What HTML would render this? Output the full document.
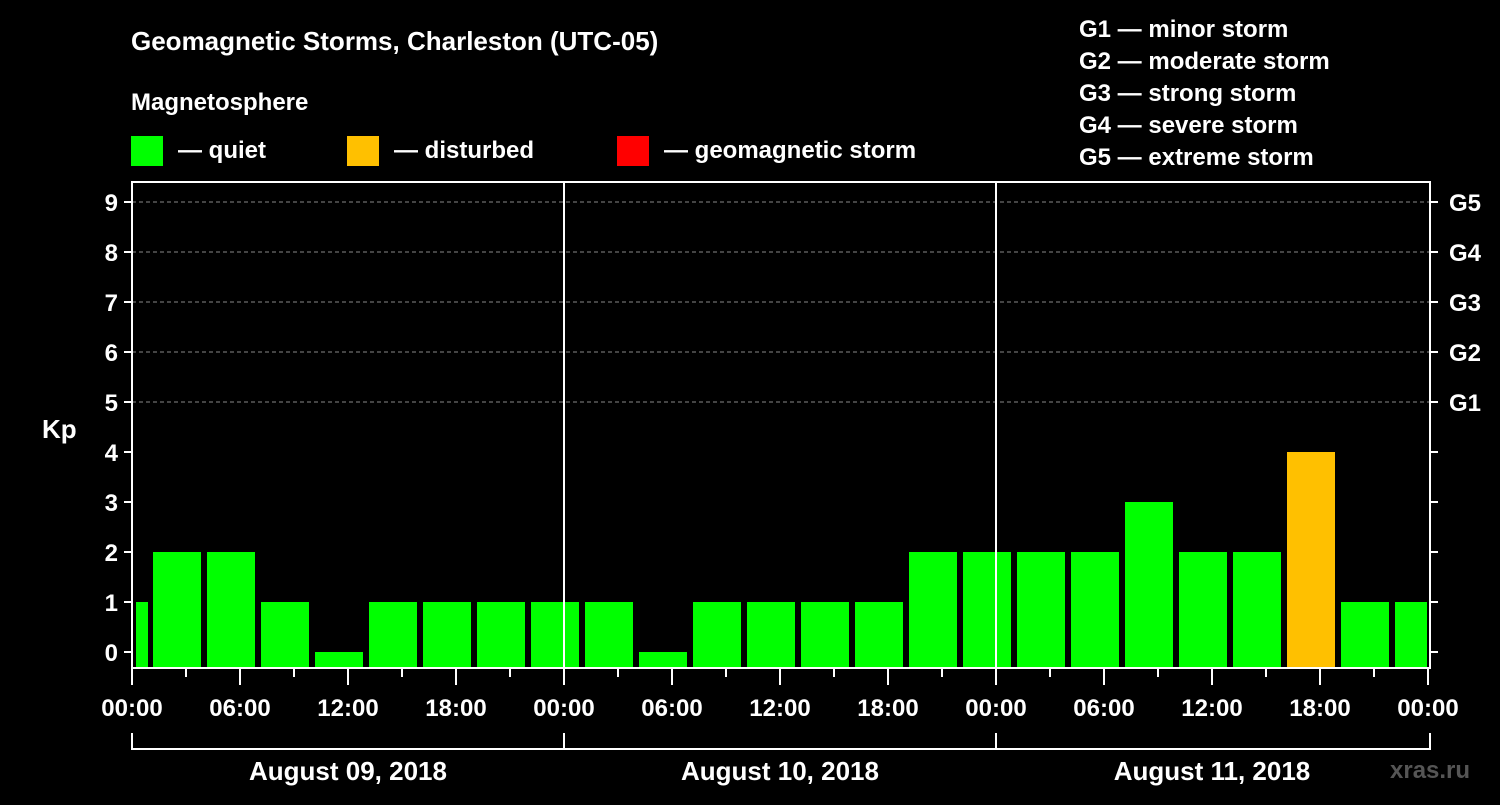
<!DOCTYPE html>
<html><head><meta charset="utf-8"><style>
body{margin:0;background:#000;width:1500px;height:800px;overflow:hidden}
svg text{font-family:"Liberation Sans",sans-serif;font-weight:bold;fill:#fff}
</style></head><body>
<svg id="c" width="1500" height="800">
<text x="131" y="50" font-size="26">Geomagnetic Storms, Charleston (UTC-05)</text>
<text x="131" y="110" font-size="24">Magnetosphere</text>
<rect x="131" y="136" width="32" height="30" fill="#00ff00"/>
<text x="178" y="158" font-size="24">— quiet</text>
<rect x="347" y="136" width="32" height="30" fill="#ffc000"/>
<text x="394" y="158" font-size="24">— disturbed</text>
<rect x="617" y="136" width="32" height="30" fill="#ff0000"/>
<text x="664" y="158" font-size="24">— geomagnetic storm</text>
<g font-size="24">
<text x="1079" y="37">G1 — minor storm</text>
<text x="1079" y="69">G2 — moderate storm</text>
<text x="1079" y="101">G3 — strong storm</text>
<text x="1079" y="133">G4 — severe storm</text>
<text x="1079" y="165">G5 — extreme storm</text>
</g>
<text x="42" y="438" font-size="26">Kp</text>
<text x="1390" y="778" font-size="24" fill="#555" style="fill:#555">xras.ru</text>
<g id="g"></g>
</svg>
<script>
const values=[1,2,2,1,0,1,1,1,1,1,0,1,1,1,1,2,2,2,2,3,2,2,4,1,1];
const yTicks=[0,1,2,3,4,5,6,7,8,9];
const gLabels=["G1","G2","G3","G4","G5"];
const hourLabels=["00:00","06:00","12:00","18:00"];
const dayLabels=["August 09, 2018","August 10, 2018","August 11, 2018"];
const X0=132,X1=1430,HPX=18,Y0=652,UPY=50,BOT=668,TOP=182;
const x=h=>X0+h*HPX, y=v=>Y0-v*UPY;
const g=document.getElementById('g');
const NS="http://www.w3.org/2000/svg";
function mk(t,a){const e=document.createElementNS(NS,t);for(const k in a)e.setAttribute(k,a[k]);g.appendChild(e);return e;}
// grid
for(let v=5;v<=9;v++){const l=mk('line',{x1:X0,x2:X1,y1:y(v),y2:y(v),stroke:'#888','stroke-dasharray':'4,3','stroke-width':1});

}
// bars
values.forEach((v,i)=>{const s=Math.max(0,-2+3*i),e=Math.min(72,1+3*i);
const r=mk('rect',{x:x(s)+(i==0?4:3),y:y(v),width:(x(e)-x(s))-(i==0?6:6)+(i==values.length-1?2:0),height:BOT-y(v),fill:v>=5?'#ff0000':v>=4?'#ffc000':'#00ff00'});

});
// frame
const fr=mk('path',{d:`M${X0} ${TOP}H${X1}V${BOT}H${X0}Z M${x(24)} ${TOP}V${BOT} M${x(48)} ${TOP}V${BOT}`,stroke:'#fff','stroke-width':2,fill:'none'});


yTicks.forEach(v=>{mk('line',{x1:X0-8,x2:X0,y1:y(v),y2:y(v),stroke:'#fff','stroke-width':2});
mk('line',{x1:X1,x2:X1+8,y1:y(v),y2:y(v),stroke:'#fff','stroke-width':2});
const t=mk('text',{x:X0-14,y:y(v)+9,'font-size':24,'text-anchor':'end'});t.textContent=v;

});
gLabels.forEach((s,i)=>{const t=mk('text',{x:1449,y:y(5+i)+9,'font-size':24});t.textContent=s;

});
for(let h=0;h<=72;h+=3){mk('line',{x1:x(h),x2:x(h),y1:BOT,y2:BOT+(h%6?9:17),stroke:'#fff','stroke-width':2});}
for(let h=0;h<=72;h+=6){const t=mk('text',{x:x(h),y:716,'font-size':24,'text-anchor':'middle'});t.textContent=hourLabels[(h/6)%4];

}
mk('path',{d:`M${x(0)} 733V749H${X1}V733 M${x(24)} 733V749 M${x(48)} 733V749`,stroke:'#fff','stroke-width':2,fill:'none'});
dayLabels.forEach((s,i)=>{const t=mk('text',{x:x(24*i+12),y:780,'font-size':26,'text-anchor':'middle'});t.textContent=s;

});
</script>
</body></html>
